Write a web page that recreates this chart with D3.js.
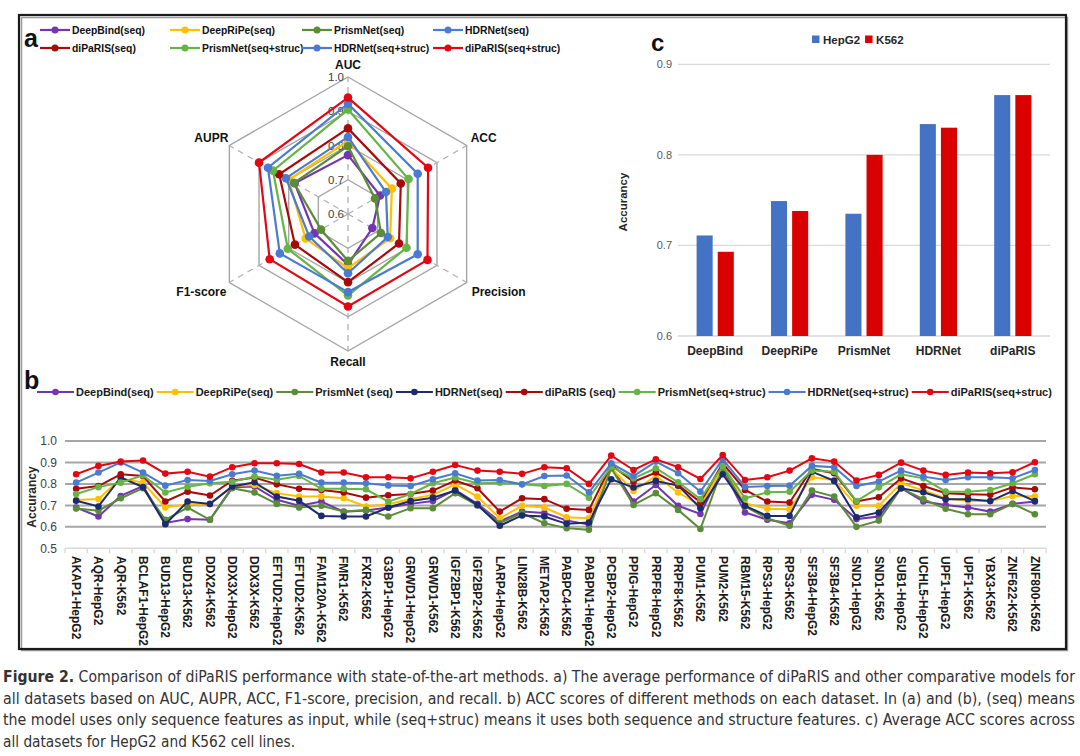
<!DOCTYPE html>
<html><head><meta charset="utf-8">
<script src="https://cdn.jsdelivr.net/npm/d3@7/dist/d3.min.js"></script>
<style>
body{margin:0;background:#fff}
svg{display:block}
text{font-family:"Liberation Sans",Arial,Helvetica,sans-serif}
</style>
</head><body>
<svg id="fig" width="1080" height="756"></svg>
<script>
// ---------------- DATA ----------------
// Panel a: radar
const radarAxes = ["AUC","ACC","Precision","Recall","F1-score","AUPR"];
const radarTicks = [0.6,0.7,0.8,0.9,1.0];
const radarModels = ["DeepBind(seq)","DeepRiPe(seq)","PrismNet(seq)","HDRNet(seq)","diPaRIS(seq)","PrismNet(seq+struc)","HDRNet(seq+struc)","diPaRIS(seq+struc)"];
const radarDeepBind     = [0.772,0.708,0.682,0.748,0.713,0.780];
const radarDeepRiPe     = [0.813,0.748,0.742,0.758,0.743,0.800];
const radarPrismNet     = [0.798,0.691,0.711,0.737,0.691,0.782];
const radarHDRNet       = [0.825,0.728,0.734,0.773,0.731,0.809];
const radarDiPaRIS      = [0.850,0.778,0.772,0.799,0.779,0.832];
const radarPrismNetSS   = [0.905,0.804,0.797,0.838,0.803,0.853];
const radarHDRNetSS     = [0.922,0.835,0.835,0.828,0.830,0.870];
const radarDiPaRISSS    = [0.940,0.870,0.868,0.870,0.864,0.900];
const radarColors = ["#7335b0","#ffc000","#5b8c37","#4a7bd0","#a80a0a","#66b446","#4a7bd0","#e30613"];

// Panel b: per-dataset ACC
const datasets = ["AKAP1-HepG2","AQR-HepG2","AQR-K562","BCLAF1-HepG2","BUD13-HepG2","BUD13-K562","DDX24-K562","DDX3X-HepG2","DDX3X-K562","EFTUD2-HepG2","EFTUD2-K562","FAM120A-K562","FMR1-K562","FXR2-K562","G3BP1-HepG2","GRWD1-HepG2","GRWD1-K562","IGF2BP1-K562","IGF2BP2-K562","LARP4-HepG2","LIN28B-K562","METAP2-K562","PABPC4-K562","PABPN1-HepG2","PCBP2-HepG2","PPIG-HepG2","PRPF8-HepG2","PRPF8-K562","PUM1-K562","PUM2-K562","RBM15-K562","RPS3-HepG2","RPS3-K562","SF3B4-HepG2","SF3B4-K562","SND1-HepG2","SND1-K562","SUB1-HepG2","UCHL5-HepG2","UPF1-HepG2","UPF1-K562","YBX3-K562","ZNF622-K562","ZNF800-K562"];
const accTicks = [0.5,0.6,0.7,0.8,0.9,1.0];
const lineModels = ["DeepBind(seq)","DeepRiPe(seq)","PrismNet (seq)","HDRNet(seq)","diPaRIS (seq)","PrismNet(seq+struc)","HDRNet(seq+struc)","diPaRIS(seq+struc)"];
const accDeepBind   = [0.690,0.648,0.744,0.790,0.618,0.636,0.633,0.785,0.788,0.726,0.698,0.718,0.670,0.676,0.690,0.707,0.720,0.772,0.707,0.625,0.671,0.664,0.630,0.610,0.880,0.718,0.795,0.698,0.660,0.870,0.667,0.633,0.617,0.749,0.726,0.636,0.648,0.780,0.718,0.702,0.690,0.671,0.707,0.718];
const accDeepRiPe   = [0.725,0.730,0.825,0.806,0.690,0.705,0.705,0.790,0.795,0.757,0.741,0.741,0.733,0.695,0.705,0.730,0.749,0.798,0.741,0.640,0.698,0.690,0.645,0.640,0.873,0.767,0.837,0.760,0.700,0.873,0.710,0.684,0.682,0.831,0.818,0.698,0.698,0.803,0.770,0.733,0.720,0.720,0.744,0.741];
const accPrismNet   = [0.685,0.675,0.733,0.780,0.633,0.690,0.633,0.780,0.760,0.707,0.690,0.698,0.671,0.679,0.648,0.687,0.687,0.757,0.700,0.617,0.664,0.617,0.594,0.586,0.873,0.702,0.757,0.679,0.590,0.876,0.695,0.640,0.605,0.769,0.741,0.600,0.629,0.780,0.729,0.684,0.659,0.659,0.707,0.659];
const accHDRNet     = [0.722,0.695,0.830,0.785,0.612,0.718,0.707,0.788,0.808,0.741,0.722,0.651,0.648,0.648,0.690,0.720,0.736,0.769,0.702,0.605,0.653,0.648,0.614,0.620,0.822,0.783,0.814,0.792,0.687,0.845,0.698,0.651,0.651,0.857,0.814,0.645,0.667,0.780,0.761,0.729,0.729,0.720,0.767,0.720];
const accDiPaRIS    = [0.777,0.790,0.845,0.837,0.718,0.764,0.746,0.815,0.830,0.798,0.777,0.772,0.760,0.736,0.747,0.753,0.769,0.816,0.780,0.671,0.733,0.729,0.684,0.679,0.888,0.810,0.853,0.795,0.715,0.896,0.772,0.718,0.713,0.870,0.850,0.718,0.738,0.826,0.790,0.757,0.752,0.749,0.784,0.775];
const accPrismNetSS = [0.753,0.785,0.806,0.840,0.760,0.787,0.803,0.810,0.834,0.820,0.837,0.777,0.777,0.775,0.717,0.753,0.803,0.830,0.803,0.806,0.798,0.790,0.800,0.736,0.880,0.826,0.873,0.808,0.729,0.884,0.733,0.761,0.764,0.862,0.857,0.720,0.784,0.845,0.826,0.764,0.764,0.772,0.803,0.845];
const accHDRNetSS   = [0.806,0.853,0.900,0.853,0.792,0.818,0.814,0.845,0.862,0.838,0.847,0.806,0.806,0.803,0.793,0.790,0.822,0.850,0.816,0.818,0.798,0.837,0.839,0.761,0.896,0.837,0.904,0.850,0.764,0.915,0.786,0.790,0.792,0.884,0.878,0.790,0.811,0.862,0.834,0.818,0.831,0.831,0.826,0.865];
const accDiPaRISSS  = [0.845,0.884,0.904,0.909,0.848,0.857,0.834,0.878,0.896,0.896,0.893,0.853,0.853,0.831,0.831,0.826,0.857,0.888,0.862,0.857,0.847,0.878,0.873,0.800,0.932,0.865,0.915,0.878,0.823,0.935,0.818,0.831,0.862,0.919,0.904,0.816,0.842,0.899,0.862,0.842,0.853,0.850,0.854,0.901];
const lineColors = ["#7335b0","#ffc000","#5b8c37","#1c2a6e","#a80a0a","#66b446","#4a7bd0","#e30613"];

// Panel c: average ACC by cell line
const barMethods = ["DeepBind","DeepRiPe","PrismNet","HDRNet","diPaRIS"];
const cellLines = ["HepG2","K562"];
const barHepG2 = [0.711,0.749,0.735,0.834,0.866];
const barK562  = [0.693,0.738,0.800,0.830,0.866];
const barTicks = [0.6,0.7,0.8,0.9];
const barColors = ["#4472c4","#d90000"];

const captionLines = [
  ["Figure 2.", "  Comparison of diPaRIS performance with state-of-the-art methods. a) The average performance of diPaRIS and other comparative models for"],
  ["", "all datasets based on AUC, AUPR, ACC, F1-score, precision, and recall. b) ACC scores of different methods on each dataset. In (a) and (b), (seq) means"],
  ["", "the model uses only sequence features as input, while (seq+struc) means it uses both sequence and structure features. c) Average ACC scores across"],
  ["", "all datasets for HepG2 and K562 cell lines."]
];

// ---------------- DRAW ----------------
const svg = d3.select("#fig");
svg.append("rect").attr("width",1080).attr("height",756).attr("fill","#fff");

// frame
svg.append("rect").attr("x",20).attr("y",16).attr("width",1046).attr("height",633)
  .attr("fill","none").attr("stroke","#9a9a9a").attr("stroke-width",1.5).attr("transform","translate(1.5,1.5)");
svg.append("rect").attr("x",19).attr("y",15).attr("width",1047).attr("height",634)
  .attr("fill","none").attr("stroke","#1a1a1a").attr("stroke-width",2.2);

function squeeze(sel, f){ sel.each(function(){ const w=this.getComputedTextLength(); d3.select(this).attr("textLength",w*f).attr("lengthAdjust","spacingAndGlyphs"); }); }

// ===== Panel a: radar =====
const radarSeries = [radarDeepBind,radarDeepRiPe,radarPrismNet,radarHDRNet,radarDiPaRIS,radarPrismNetSS,radarHDRNetSS,radarDiPaRISSS];
const cx = 348, cy = 214, R = 137;
const rS = d3.scaleLinear().domain([0.6,1.0]).range([0,R]);
const ang = i => i*2*Math.PI/radarAxes.length;
const pt = (i,v) => [cx + rS(v)*Math.sin(ang(i)), cy - rS(v)*Math.cos(ang(i))];
const ga = svg.append("g");
// grid hexagons
radarTicks.filter(t=>t>0.6).forEach(t=>{
  ga.append("path").attr("d", d3.line()(radarAxes.map((a,i)=>pt(i,t)))+"Z")
    .attr("fill","none").attr("stroke","#a6a6a6").attr("stroke-width",1.4);
});
radarAxes.forEach((a,i)=>{
  const p = pt(i,1.0);
  ga.append("line").attr("x1",cx).attr("y1",cy).attr("x2",p[0]).attr("y2",p[1])
    .attr("stroke","#b0b0b0").attr("stroke-width",1.3).attr("stroke-dasharray","6,5");
});
radarTicks.forEach(t=>{
  ga.append("text").attr("x",cx-4).attr("y",cy-rS(t)).attr("dy","0.35em").attr("text-anchor","end")
    .attr("font-size",11.5).attr("fill","#404040").text(t.toFixed(1));
});
// axis labels
const labPos = [
  {x:cx, y:cy-R-12, a:"middle"},
  {x:cx+R*0.866+4, y:cy-R*0.5-8, a:"start"},
  {x:cx+R*0.866+5, y:cy+R*0.5+9, a:"start"},
  {x:cx, y:cy+R+11, a:"middle"},
  {x:cx-R*0.866-3, y:cy+R*0.5+9, a:"end"},
  {x:cx-R*0.866-1, y:cy-R*0.5-8, a:"end"}
];
radarAxes.forEach((a,i)=>{
  ga.append("text").attr("x",labPos[i].x).attr("y",labPos[i].y).attr("dy","0.35em")
    .attr("text-anchor",labPos[i].a).attr("font-size",12).attr("font-weight","bold").attr("fill","#111").text(a);
});
radarSeries.forEach((s,k)=>{
  const pts = s.map((v,i)=>pt(i,v));
  ga.append("path").attr("d", d3.line()(pts)+"Z").attr("fill","none")
    .attr("stroke",radarColors[k]).attr("stroke-width",2.2);
  ga.selectAll(null).data(pts).enter().append("circle").attr("cx",d=>d[0]).attr("cy",d=>d[1]).attr("r",4.3).attr("fill",radarColors[k]);
});
// legend a
const colX = [40,170,302,433], rowY = [30,48];
radarModels.forEach((m,k)=>{
  const x = colX[k%4], y = rowY[Math.floor(k/4)];
  ga.append("line").attr("x1",x).attr("x2",x+30).attr("y1",y).attr("y2",y).attr("stroke",radarColors[k]).attr("stroke-width",2.2);
  ga.append("circle").attr("cx",x+15).attr("cy",y).attr("r",3.5).attr("fill",radarColors[k]);
  ga.append("text").attr("x",x+32).attr("y",y).attr("dy","0.35em").attr("font-size",11.5).attr("font-weight","bold").attr("fill","#111").text(m)
    .call(squeeze,0.9);
});
svg.append("text").attr("x",24).attr("y",47).attr("font-size",25).attr("font-weight","bold").attr("fill","#111").text("a");

// ===== Panel c: bars =====
const gc = svg.append("g");
const x0 = d3.scaleBand().domain(barMethods).range([678,1050]).paddingInner(0.5).paddingOuter(0.25);
const x1 = d3.scaleBand().domain(cellLines).range([0,x0.bandwidth()]).paddingInner(0.24);
const yb = d3.scaleLinear().domain([0.6,0.9]).range([336,64.3]);
barTicks.forEach(t=>{
  gc.append("line").attr("x1",678).attr("x2",1050).attr("y1",yb(t)).attr("y2",yb(t)).attr("stroke","#d9d9d9").attr("stroke-width",1.3);
  gc.append("text").attr("x",672).attr("y",yb(t)).attr("dy","0.35em").attr("text-anchor","end").attr("font-size",11).attr("fill","#595959").text(t.toFixed(1));
});
const barRows = barMethods.map((m,i)=>({m, vals:[barHepG2[i],barK562[i]]}));
barRows.forEach(r=>{
  r.vals.forEach((v,j)=>{
    gc.append("rect").attr("x",x0(r.m)+x1(cellLines[j])).attr("y",yb(v)).attr("width",x1.bandwidth()).attr("height",yb(0.6)-yb(v)).attr("fill",barColors[j]);
  });
  gc.append("text").attr("x",x0(r.m)+x0.bandwidth()/2).attr("y",351).attr("dy","0.35em").attr("text-anchor","middle")
    .attr("font-size",12).attr("font-weight","bold").attr("fill","#262626").text(r.m);
});
gc.append("text").attr("transform","translate(627,202) rotate(-90)").attr("text-anchor","middle").attr("font-size",11.5).attr("font-weight","bold").attr("fill","#262626").text("Accurancy");
// legend c
let lx = 812;
cellLines.forEach((c,j)=>{
  gc.append("rect").attr("x",lx).attr("y",35.5).attr("width",7.5).attr("height",7.5).attr("fill",barColors[j]);
  const t = gc.append("text").attr("x",lx+11).attr("y",39.5).attr("dy","0.35em").attr("font-size",11.5).attr("font-weight","bold").attr("fill","#262626").text(c);
  lx = lx + 11 + t.node().getComputedTextLength() + 5;
});
svg.append("text").attr("x",651).attr("y",51).attr("font-size",24).attr("font-weight","bold").attr("fill","#111").text("c");

// ===== Panel b: lines =====
const gb = svg.append("g");
const lineSeries = [accDeepBind,accDeepRiPe,accPrismNet,accHDRNet,accDiPaRIS,accPrismNetSS,accHDRNetSS,accDiPaRISSS];
const xb = d3.scalePoint().domain(datasets).range([65,1046]).padding(0.5);
const yl = d3.scaleLinear().domain([0.5,1.0]).range([548.3,441]);
const step = xb.step();
accTicks.forEach(t=>{
  gb.append("line").attr("x1",65).attr("x2",1046).attr("y1",yl(t)).attr("y2",yl(t))
    .attr("stroke", t===0.5 ? "#d9d9d9" : "#a6a6a6").attr("stroke-width", t===0.5 ? 1.5 : 2);
  gb.append("text").attr("x",57).attr("y",yl(t)).attr("dy","0.35em").attr("text-anchor","end").attr("font-size",12).attr("fill","#404040").text(t.toFixed(1));
});
d3.range(datasets.length+1).forEach(k=>{
  const xx = 65 + k*step;
  gb.append("line").attr("x1",xx).attr("x2",xx).attr("y1",yl(0.5)).attr("y2",yl(0.5)+5).attr("stroke","#d9d9d9").attr("stroke-width",1.3);
});
datasets.forEach(d=>{
  gb.append("text").attr("transform",`translate(${xb(d)},556) rotate(90)`).attr("dy","0.35em")
    .attr("font-size",12).attr("font-weight","bold").attr("fill","#1a1a1a").text(d);
});
gb.append("text").attr("transform","translate(36,497) rotate(-90)").attr("text-anchor","middle").attr("font-size",12).attr("font-weight","bold").attr("fill","#262626").text("Accurancy");
const ln = d3.line().x((v,i)=>xb(datasets[i])).y(v=>yl(v));
lineSeries.forEach((s,k)=>{
  gb.append("path").attr("d",ln(s)).attr("fill","none").attr("stroke",lineColors[k]).attr("stroke-width",2);
  gb.selectAll(null).data(s).enter().append("circle").attr("cx",(v,i)=>xb(datasets[i])).attr("cy",v=>yl(v)).attr("r",3.3).attr("fill",lineColors[k]);
});
// legend b
let bx = 37;
lineModels.forEach((m,k)=>{
  gb.append("line").attr("x1",bx).attr("x2",bx+37).attr("y1",392).attr("y2",392).attr("stroke",lineColors[k]).attr("stroke-width",2.2);
  gb.append("circle").attr("cx",bx+18.5).attr("cy",392).attr("r",3.3).attr("fill",lineColors[k]);
  const t = gb.append("text").attr("x",bx+39).attr("y",392).attr("dy","0.35em").attr("font-size",11).attr("font-weight","bold").attr("fill","#1a1a1a").text(m);
  bx = bx + 39 + t.node().getComputedTextLength() + 3;
});
svg.append("text").attr("x",24).attr("y",389).attr("font-size",25).attr("font-weight","bold").attr("fill","#111").text("b");

// ===== Caption =====
const capY = [677, 698.5, 720, 741.5];
captionLines.forEach((ln2,i)=>{
  const t = svg.append("text").attr("x",3).attr("y",capY[i]).attr("dy","0.35em").attr("font-size",15.5)
    .attr("fill","#333").style("font-family",'"Liberation Sans Narrow","DejaVu Sans Condensed","Liberation Sans",Arial,sans-serif');
  if (ln2[0]) t.append("tspan").attr("font-weight","bold").text(ln2[0]);
  t.append("tspan").text(ln2[1]);
  if (i < captionLines.length-1) t.attr("textLength",1072).attr("lengthAdjust","spacingAndGlyphs");
  else { const w = t.node().getComputedTextLength(); t.attr("textLength",Math.min(w,292)).attr("lengthAdjust","spacingAndGlyphs"); }
});
</script>
</body></html>
